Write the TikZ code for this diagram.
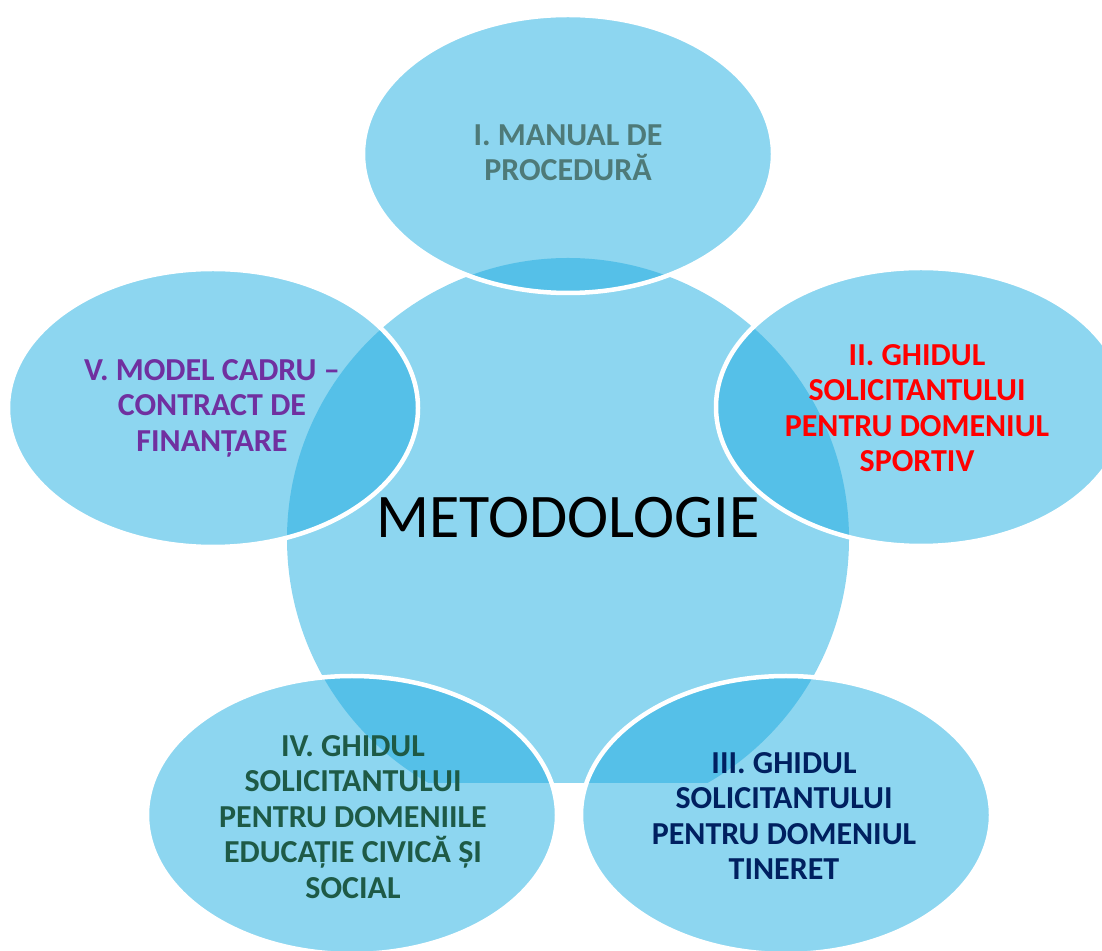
\documentclass[tikz,border=0pt]{standalone}
\usepackage{fontspec}
\setmainfont{Carlito}
\definecolor{lightsky}{RGB}{141,214,240}
\definecolor{darksky}{RGB}{85,192,232}
\definecolor{txtgray}{RGB}{78,122,120}
\definecolor{txtred}{RGB}{255,0,0}
\definecolor{txtnavy}{RGB}{0,32,96}
\definecolor{txtgreen}{RGB}{30,90,70}
\definecolor{txtpurple}{RGB}{112,48,160}
\tikzstyle{bubble}=[fill=lightsky]
\tikzstyle{rim}=[draw=white,line width=4.5pt]
\tikzstyle{bubtext}=[align=center,inner sep=0pt,font=\bfseries\fontsize{32}{35.5}\selectfont]

\begin{document}
\begin{tikzpicture}[x=1pt,y=1pt]

  % frame
  \useasboundingbox (0,0) rectangle (1102,950);
  \clip (0,0) rectangle (1102,950);

  % sizes
  \def\R{281pt}
  \def\a{205pt}
  \def\b{139pt}
  \def\cut{167}

  % centres
  \coordinate (mid) at (568,411);
  \coordinate (pI) at (568,796);
  \coordinate (pII) at (921,543);
  \coordinate (pIII) at (786,135);
  \coordinate (pIV) at (352,135);
  \coordinate (pV) at (213,542);

  % big circle, cut at the bottom
  \begin{scope}
    \clip (0,\cut) rectangle (1102,950);
    \fill[bubble] (mid) circle (\R);
  \end{scope}

  % ellipses + overlaps
  \foreach \p in {pI,pII,pIII,pIV,pV} {
    \fill[bubble] (\p) ellipse ({\a} and {\b});
    \begin{scope}
      \clip (\p) ellipse ({\a} and {\b});
      \clip (0,\cut) rectangle (1102,950);
      \fill[darksky] (mid) circle (\R);
    \end{scope}
    \draw[rim] (\p) ellipse ({\a} and {\b});
  }

  % texts
  \node[bubtext,txtgray] (manual) at (568,797) {I. MANUAL DE\\PROCEDURĂ};
  \node[bubtext,txtred] (sport) at (917,542) {II. GHIDUL\\SOLICITANTULUI\\PENTRU DOMENIUL\\SPORTIV};
  \node[bubtext,txtnavy] (tineret) at (784,134) {III. GHIDUL\\SOLICITANTULUI\\PENTRU DOMENIUL\\TINERET};
  \node[bubtext,txtgreen] (civic) at (353,133) {IV. GHIDUL\\SOLICITANTULUI\\PENTRU DOMENIILE\\EDUCAȚIE CIVICĂ ȘI\\SOCIAL};
  \node[bubtext,txtpurple] (contract) at (212,542) {V. MODEL CADRU –\\CONTRACT DE\\FINANȚARE};
  \node[inner sep=0pt,font=\fontsize{62}{70}\selectfont] (metod) at (568,432) {METODOLOGIE};

\end{tikzpicture}
\end{document}
